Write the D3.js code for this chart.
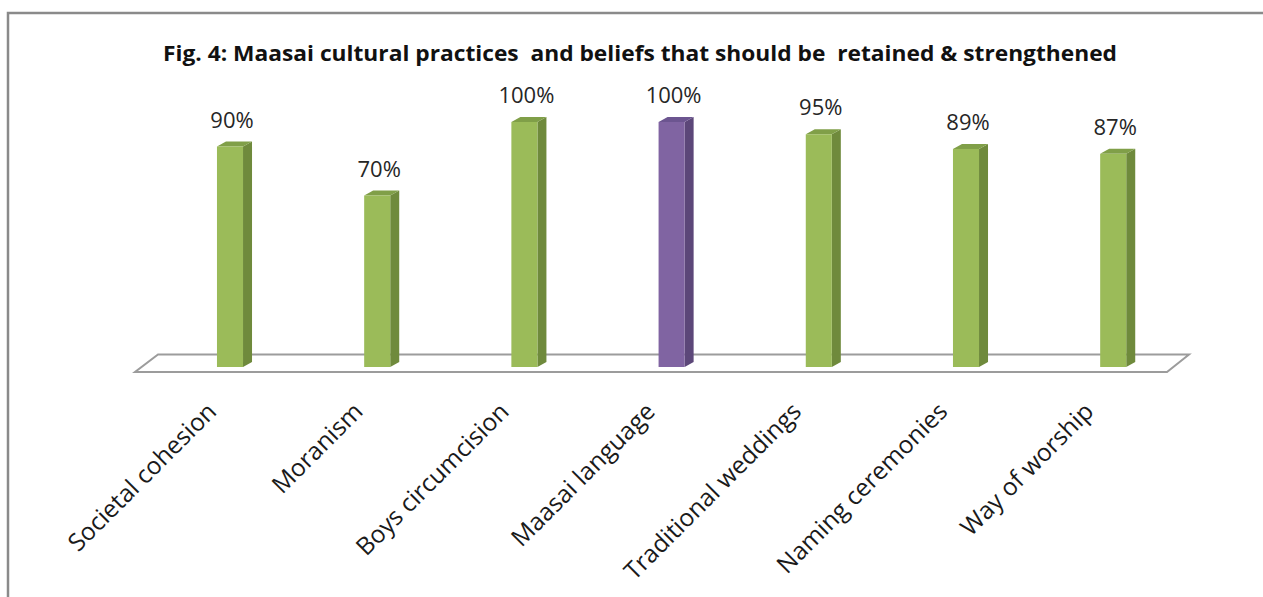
<!DOCTYPE html>
<html>
<head>
<meta charset="utf-8">
<script src="https://cdn.jsdelivr.net/npm/d3@7"></script>
<style>
  html, body { margin: 0; padding: 0; background: #fff; }
  svg { display: block; }
  text { font-family: "Open Sans", "DejaVu Sans", sans-serif; white-space: pre; }
</style>
</head>
<body>
<svg id="chart" width="1263" height="597"></svg>
<script>
const title = "Fig. 4: Maasai cultural practices  and beliefs that should be  retained & strengthened";
const categories = ["Societal cohesion", "Moranism", "Boys circumcision", "Maasai language", "Traditional weddings", "Naming ceremonies", "Way of worship"];
const values = [90, 70, 100, 100, 95, 89, 87];
const highlighted = ["Maasai language"];

const W = 1263, H = 597;
const svg = d3.select("#chart");

// outer frame (top + left edges visible)
svg.append("path")
  .attr("d", `M8,${H} L8,13 L${W},13`)
  .attr("fill", "none").attr("stroke", "#8a8a8a").attr("stroke-width", 2.5);

// title
svg.append("text")
  .attr("x", 640).attr("y", 61)
  .attr("text-anchor", "middle")
  .attr("font-weight", "bold").attr("font-size", 21)
  .attr("fill", "#111")
  .attr("textLength", 954).attr("lengthAdjust", "spacingAndGlyphs")
  .text(title);

// scales
const x = d3.scaleBand().domain(categories).range([156.4, 1186.8])
  .paddingInner(0.823).paddingOuter(0.4115);
const xl = d3.scaleBand().domain(categories).range([144.9, 1168.3]);
const y = d3.scaleLinear().domain([0, 100]).range([367, 122]);

const depthX = 9, depthY = -5;

// floor
const floorFrontY = 372, floorBackY = 354.5;
svg.append("path")
  .attr("d", `M135,${floorFrontY} L1167,${floorFrontY} L1189,${floorBackY} L158,${floorBackY} Z`)
  .attr("fill", "#fff").attr("stroke", "#9c9c9c").attr("stroke-width", 2);

const colors = {
  green: { front: "#9bbb59", side: "#6f8a3c", top: "#809f48" },
  purple: { front: "#8064a2", side: "#5c4779", top: "#6c5590" }
};

const bars = svg.append("g").selectAll("g").data(categories).join("g");
bars.each(function(c, i) {
  const g = d3.select(this);
  const col = highlighted.includes(c) ? colors.purple : colors.green;
  const x0 = x(c), x1 = x(c) + x.bandwidth();
  const yt = y(values[i]), yb = y(0);
  g.append("path")
    .attr("d", `M${x1},${yb} L${x1 + depthX},${yb + depthY} L${x1 + depthX},${yt + depthY} L${x1},${yt} Z`)
    .attr("fill", col.side);
  g.append("path")
    .attr("d", `M${x0},${yt} L${x0 + depthX},${yt + depthY} L${x1 + depthX},${yt + depthY} L${x1},${yt} Z`)
    .attr("fill", col.top);
  g.append("rect")
    .attr("x", x0).attr("y", yt).attr("width", x.bandwidth()).attr("height", yb - yt)
    .attr("fill", col.front);
  g.append("text")
    .attr("x", x0 + x.bandwidth() / 2 + 2).attr("y", yt - 19)
    .attr("text-anchor", "middle").attr("font-size", 22).attr("fill", "#262626")
    .text(values[i] + "%");
});

// category labels
svg.append("g").selectAll("text").data(categories).join("text")
  .attr("transform", c => `translate(${xl(c) + xl.bandwidth() / 2},413) rotate(-45)`)
  .attr("text-anchor", "end")
  .attr("font-size", 24.5).attr("fill", "#1a1a1a")
  .text(c => c);
</script>
</body>
</html>
